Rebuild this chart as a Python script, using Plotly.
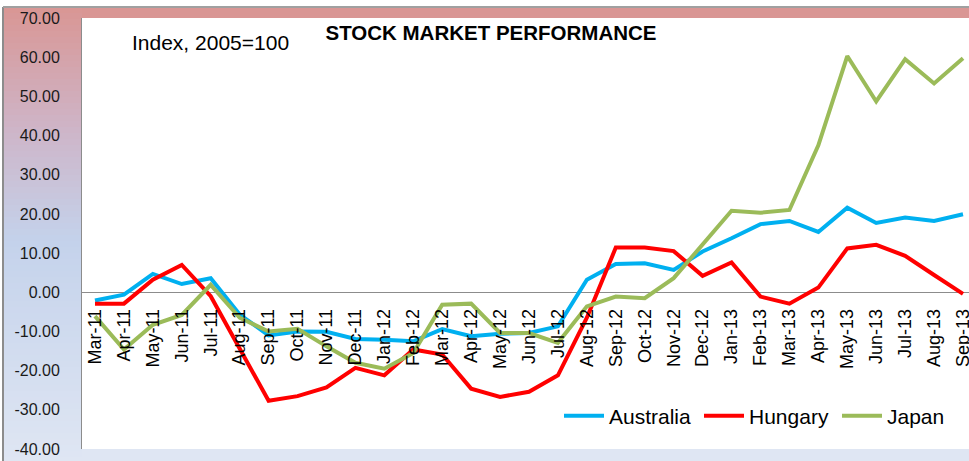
import plotly.graph_objects as go

months = ["Mar-11", "Apr-11", "May-11", "Jun-11", "Jul-11", "Aug-11", "Sep-11", "Oct-11",
          "Nov-11", "Dec-11", "Jan-12", "Feb-12", "Mar-12", "Apr-12", "May-12", "Jun-12",
          "Jul-12", "Aug-12", "Sep-12", "Oct-12", "Nov-12", "Dec-12", "Jan-13", "Feb-13",
          "Mar-13", "Apr-13", "May-13", "Jun-13", "Jul-13", "Aug-13", "Sep-13"]

australia = [-2.1, -0.6, 4.7, 2.1, 3.6, -5.7, -11.0, -10.0, -10.1, -11.9, -12.1, -12.5,
             -9.4, -11.2, -10.6, -10.4, -8.7, 3.2, 7.2, 7.4, 5.7, 10.4, 13.8, 17.4,
             18.2, 15.4, 21.6, 17.7, 19.1, 18.2, 19.9]
hungary = [-2.9, -2.9, 3.2, 7.0, -1.0, -14.5, -27.7, -26.5, -24.3, -19.3, -21.2, -14.6,
           -15.9, -24.6, -26.7, -25.4, -21.2, -6.5, 11.4, 11.4, 10.5, 4.2, 7.6, -1.1,
           -2.9, 1.2, 11.2, 12.1, 9.3, 4.4, -0.4]
japan = [-6.1, -14.6, -8.3, -5.8, 1.9, -6.5, -10.0, -9.3, -13.8, -18.0, -19.5, -15.5,
         -3.2, -2.9, -10.4, -10.4, -12.9, -3.6, -1.1, -1.5, 3.6, 12.2, 20.8, 20.3,
         21.0, 37.5, 60.3, 48.7, 59.5, 53.3, 59.7]

series_names = ["Australia", "Hungary", "Japan"]
series_values = [australia, hungary, japan]
series_colors = ["#00b0f0", "#ff0000", "#9bbb59"]

y_ticks = [70, 60, 50, 40, 30, 20, 10, 0, -10, -20, -30, -40]

W, H = 969, 461
ML, MR, MT, MB = 82, 0, 18, 12
PW = W - ML - MR
PH = H - MT - MB

FONT = "Liberation Sans, Arial, sans-serif"


def px_x(p):
    return (p - ML) / PW


def px_y(p):
    return (H - MB - p) / PH


legend_ids = ["legend", "legend2", "legend3"]
legend_left_px = [559, 699, 837]

fig = go.Figure()
for name, vals, col, lid in zip(series_names, series_values, series_colors, legend_ids):
    fig.add_trace(go.Scatter(
        x=list(range(len(months))), y=vals, name=name, mode="lines",
        line=dict(color=col, width=4), legend=lid))

# gradient background (left strip) built from thin bands
stops = [(7, (217, 150, 148)), (130, (206, 181, 200)), (240, (196, 210, 235)),
         (461, (223, 230, 243))]


def col_at(y):
    for (y0, c0), (y1, c1) in zip(stops[:-1], stops[1:]):
        if y0 <= y <= y1:
            t = (y - y0) / (y1 - y0)
            return "rgb(%d,%d,%d)" % tuple(round(a + (b - a) * t) for a, b in zip(c0, c1))
    return "rgb(%d,%d,%d)" % stops[-1][1]


shapes = []
step = 6
y = 7
while y < H:
    y2 = min(y + step, H)
    shapes.append(dict(type="rect", xref="paper", yref="paper", layer="below",
                       x0=px_x(3), x1=px_x(ML), y0=px_y(y2), y1=px_y(y),
                       fillcolor=col_at((y + y2) / 2), line=dict(width=0)))
    y = y2
shapes.append(dict(type="rect", xref="paper", yref="paper", layer="below",
                   x0=px_x(ML), x1=px_x(W), y0=px_y(MT), y1=px_y(7),
                   fillcolor="rgb(217,150,148)", line=dict(width=0)))
shapes.append(dict(type="rect", xref="paper", yref="paper", layer="below",
                   x0=px_x(ML), x1=px_x(W), y0=px_y(H), y1=px_y(H - MB),
                   fillcolor="rgb(223,230,243)", line=dict(width=0)))
shapes.append(dict(type="line", xref="paper", yref="paper",
                   x0=px_x(3), x1=px_x(3), y0=px_y(H), y1=px_y(7),
                   line=dict(color="#8c8c8c", width=2)))
shapes.append(dict(type="line", xref="paper", yref="paper",
                   x0=px_x(3), x1=px_x(W), y0=px_y(7), y1=px_y(7),
                   line=dict(color="#a0a0a0", width=2)))

layout_legends = {}
for lid, lx in zip(legend_ids, legend_left_px):
    layout_legends[lid] = dict(orientation="h", x=px_x(lx), y=px_y(416),
                               xanchor="left", yanchor="middle",
                               font=dict(family=FONT, size=21, color="black"),
                               bgcolor="rgba(0,0,0,0)", itemwidth=40)

fig.update_layout(
    width=W, height=H,
    margin=dict(l=ML, r=MR, t=MT, b=MB, pad=0),
    paper_bgcolor="white", plot_bgcolor="white",
    font=dict(family=FONT, color="black"),
    shapes=shapes,
    title=dict(text="<b>STOCK MARKET PERFORMANCE</b>", x=491 / W, xanchor="center",
               y=1 - 33 / H, yanchor="middle",
               font=dict(family=FONT, size=20.5, color="black")),
    annotations=[dict(text="Index, 2005=100", xref="paper", yref="paper",
                      x=px_x(210), y=px_y(42), xanchor="center", yanchor="middle",
                      showarrow=False, font=dict(family=FONT, size=21, color="black"))],
    showlegend=True,
    hovermode=False,
    xaxis=dict(range=[-0.449, 30.207], tickmode="array", tickvals=list(range(len(months))),
               ticktext=months, tickangle=-90, showgrid=False, showline=False,
               zeroline=False, ticks="", anchor="free", position=40 / 110,
               ticklabelstandoff=12, ticklabeloverflow="allow",
               tickfont=dict(family=FONT, size=18, color="black"),
               automargin=False),
    yaxis=dict(range=[-40, 70], tickmode="array", tickvals=y_ticks,
               ticktext=["%.2f" % v for v in y_ticks], showgrid=False,
               showline=True, linecolor="#8c8c8c", linewidth=1,
               zeroline=True, zerolinecolor="#8c8c8c", zerolinewidth=1,
               ticks="", ticklabelstandoff=18,
               tickfont=dict(family=FONT, size=16, color="#1a1a1a"), automargin=False),
    **layout_legends,
)

fig.write_html("out.html", config={"displayModeBar": False},
               post_script="document.body.style.margin='0px';document.body.style.overflow='hidden';")
